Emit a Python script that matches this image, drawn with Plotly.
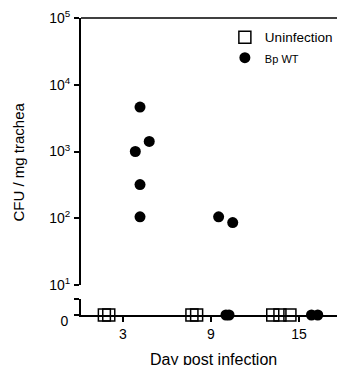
import plotly.graph_objects as go

# ---- data ----
# Bp WT, detectable CFU (day position incl. jitter, CFU/mg)
bp_days = [4.16, 4.79, 3.84, 4.16, 4.16, 9.52, 10.48]
bp_cfu = [4637, 1414, 1000, 319, 105, 105, 86]
# Bp WT, below detection (plotted at 0)
bp_zero_days = [10.02, 10.23, 15.85, 16.28]
bp_zero_vals = [0, 0, 0, 0]
# Uninfection (all 0)
un_days = [1.73, 2.03, 7.70, 8.02, 13.21, 13.70, 14.38]
un_vals = [0, 0, 0, 0, 0, 0, 0]

x_ticks = [3, 9, 15]
y_ticks = [10, 100, 1000, 10000, 100000]
y_ticktext = ["10<sup>1</sup>", "10<sup>2</sup>", "10<sup>3</sup>", "10<sup>4</sup>", "10<sup>5</sup>"]

FONT = "Liberation Sans, Arial, Helvetica, sans-serif"

fig = go.Figure()

fig.add_trace(go.Scatter(
    x=un_days, y=un_vals, mode="markers", name="Uninfection",
    xaxis="x", yaxis="y2", cliponaxis=False,
    marker=dict(symbol="square-open", size=12, color="black", line=dict(width=1.5, color="black")),
))
fig.add_trace(go.Scatter(
    x=bp_days, y=bp_cfu, mode="markers",
    name="<span style='font-size:11px'>Bp WT</span>",
    xaxis="x2", yaxis="y", cliponaxis=False, legendgroup="bp",
    marker=dict(symbol="circle", size=11, color="black"),
))
fig.add_trace(go.Scatter(
    x=bp_zero_days, y=bp_zero_vals, mode="markers", name="Bp WT zero",
    xaxis="x", yaxis="y2", cliponaxis=False, legendgroup="bp", showlegend=False,
    marker=dict(symbol="circle", size=11, color="black"),
))

xr = [0.137, 17.59]
fig.update_layout(
    width=337, height=365,
    margin=dict(l=81, r=0, t=18, b=50, autoexpand=False),
    paper_bgcolor="white", plot_bgcolor="white",
    font=dict(family=FONT, color="black", size=14),
    showlegend=True,
    legend=dict(x=0.562, y=0.987, xanchor="left", yanchor="top",
                bgcolor="rgba(0,0,0,0)", font=dict(size=13.5, family=FONT),
                itemsizing="trace", tracegroupgap=0),
    xaxis=dict(
        domain=[0, 1], range=xr, anchor="y2", automargin=False,
        showline=True, linecolor="black", linewidth=1.6,
        ticks="outside", ticklen=5, tickwidth=1.5, tickcolor="black",
        tickvals=x_ticks, tickfont=dict(size=14),
        showgrid=False, zeroline=False,
    ),
    xaxis2=dict(
        domain=[0, 1], range=xr, anchor="y", matches="x", automargin=False,
        showline=False, showticklabels=False, ticks="",
        showgrid=False, zeroline=False, visible=False,
    ),
    yaxis=dict(
        domain=[0.101, 1], type="log", range=[1, 5], anchor="x2", automargin=False,
        showline=True, linecolor="black", linewidth=2,
        ticks="outside", ticklen=5, tickwidth=1.5, tickcolor="black",
        tickvals=y_ticks, ticktext=y_ticktext, tickfont=dict(size=14),
        ticklabelstandoff=1,
        showgrid=False, zeroline=False,
    ),
    yaxis2=dict(
        domain=[0, 0.054], range=[0, 1], anchor="x", automargin=False,
        showline=True, linecolor="black", linewidth=2,
        ticks="outside", ticklen=5, tickwidth=1.5, tickcolor="black",
        tickvals=[0, 1], ticktext=["0", ""], tickfont=dict(size=14),
        ticklabelshift=6, ticklabelstandoff=3,
        showgrid=False, zeroline=False,
    ),
    shapes=[dict(type="line", xref="paper", yref="paper", x0=0, x1=1, y0=1, y1=1,
                 line=dict(color="black", width=1.6))],
    annotations=[
        dict(text="CFU / mg trachea", textangle=-90, xref="paper", yref="paper",
             x=-63 / 256, y=(315 - 162.5) / 297, xanchor="center", yanchor="middle",
             showarrow=False, font=dict(size=15, family=FONT)),
        dict(text="Day post infection", xref="paper", yref="paper",
             x=(213 - 81) / 256, y=(315 - 359) / 297, xanchor="center", yanchor="middle",
             showarrow=False, font=dict(size=16, family=FONT)),
    ],
)

fig.write_html("out.html", config={"displayModeBar": False},
               post_script="document.body.style.margin='0';document.body.style.overflow='hidden';")
